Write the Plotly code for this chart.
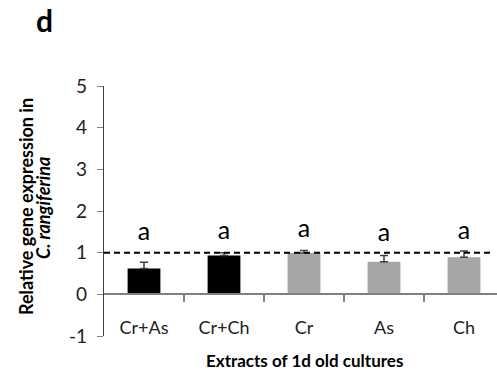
import plotly.graph_objects as go

categories = ["Cr+As", "Cr+Ch", "Cr", "As", "Ch"]
values = [0.62, 0.93, 0.99, 0.78, 0.89]
errors = [0.15, 0.07, 0.06, 0.15, 0.15]
bar_colors = ["#000000", "#000000", "#A6A6A6", "#A6A6A6", "#A6A6A6"]
sig_labels = ["a", "a", "a", "a", "a"]
sig_y = [1.46, 1.49, 1.52, 1.43, 1.49]
y_ticks = [-1, 0, 1, 2, 3, 4, 5]
y_tick_text = ["-1", "0", "1", "2", "3", "4", "5"]
ref_level = 1
boundaries = [0.5, 1.5, 2.5, 3.5]

FONT = "Lato"

fig = go.Figure()
fig.add_trace(go.Bar(
    x=categories, y=values, marker=dict(color=bar_colors, line=dict(width=0)),
    width=0.41,
    error_y=dict(type="data", array=errors, arrayminus=[0]*len(errors), symmetric=False,
                 color="#404040", thickness=1.5, width=4),
    showlegend=False, hoverinfo="skip",
))
fig.add_trace(go.Scatter(
    x=categories, y=sig_y, mode="text", text=sig_labels,
    textfont=dict(family=FONT, size=25, color="#000000"),
    showlegend=False, hoverinfo="skip",
))
# invisible trace for the zero-level axis with boundary ticks
fig.add_trace(go.Scatter(x=boundaries, y=[None]*len(boundaries), xaxis="x2", mode="markers",
                         showlegend=False, hoverinfo="skip"))

fig.add_shape(type="line", xref="paper", yref="y", x0=0, x1=0.988, y0=ref_level, y1=ref_level,
              line=dict(color="#000000", width=2, dash="6px,4px"))

xr = [-0.5, 4.4125]
fig.update_layout(
    width=497, height=372,
    margin=dict(l=104, r=0, t=86, b=36),
    paper_bgcolor="white", plot_bgcolor="white",
    font=dict(family=FONT, color="#222222"),
    xaxis=dict(range=xr, showline=False, ticks="", showgrid=False, zeroline=False,
               anchor="free", position=0.085,
               tickfont=dict(size=18, color="#222222", family=FONT)),
    xaxis2=dict(range=xr, overlaying="x", anchor="free", position=1/6,
                showline=True, linecolor="#808080", linewidth=1.5,
                tickmode="array", tickvals=boundaries, showticklabels=False,
                ticks="outside", ticklen=7, tickcolor="#808080", tickwidth=1.5,
                showgrid=False, zeroline=False),
    yaxis=dict(range=[-1, 5], tickmode="array", tickvals=y_ticks, ticktext=y_tick_text,
               showgrid=False, zeroline=False,
               showline=True, linecolor="#404040", linewidth=1.2,
               ticks="outside", ticklen=6, tickcolor="#808080", tickwidth=1.2,
               ticklabelstandoff=6,
               tickfont=dict(size=19, color="#222222", family=FONT)),
    annotations=[
        dict(text="<b>d</b>", xref="paper", yref="paper", x=(45-104)/393, y=(336-20)/250,
             xanchor="center", yanchor="middle",
             showarrow=False, font=dict(size=30, family=FONT, color="#000000")),
        dict(text="<b>Relative gene expression in</b>",
             xref="paper", yref="paper", x=(26-104)/393, y=(336-207)/250, textangle=-90,
             xanchor="center", yanchor="middle",
             showarrow=False, font=dict(size=18, family=FONT, color="#000000")),
        dict(text="<b><i>C. rangiferina</i></b>",
             xref="paper", yref="paper", x=(43-104)/393, y=(336-208)/250, textangle=-90,
             xanchor="center", yanchor="middle",
             showarrow=False, font=dict(size=18, family=FONT, color="#000000")),
        dict(text="<b>Extracts of 1d old cultures</b>", xref="x", yref="paper",
             x=2, y=(336-360)/250, xanchor="center", yanchor="middle", showarrow=False,
             font=dict(size=17, family=FONT, color="#000000")),
    ],
)
fig.write_html("out.html")
